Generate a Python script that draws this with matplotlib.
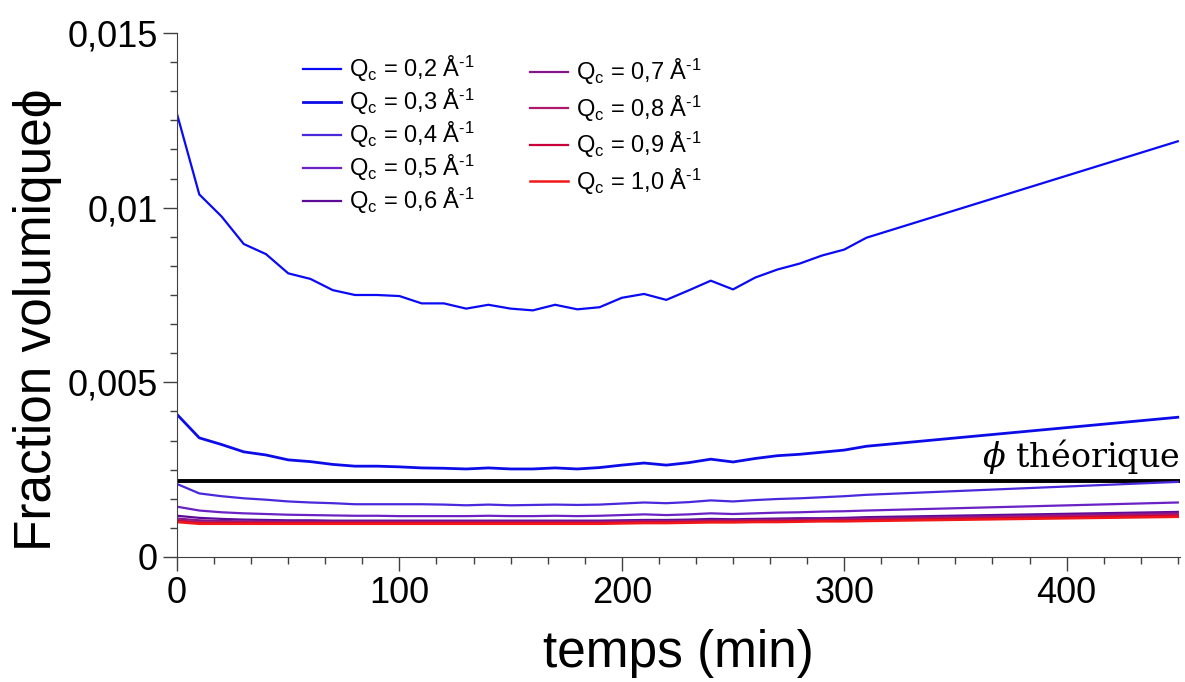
import matplotlib
matplotlib.use("Agg")
import matplotlib.pyplot as plt
from matplotlib.ticker import FixedLocator, AutoMinorLocator

plt.rcParams['font.family'] = ['Liberation Sans', 'DejaVu Sans']
plt.rcParams['mathtext.default'] = 'regular'
plt.rcParams['mathtext.fontset'] = 'custom'
plt.rcParams['mathtext.rm'] = 'Liberation Sans'
plt.rcParams['mathtext.it'] = 'DejaVu Serif:italic'

# temps (min)
temps = [0, 10, 20, 30, 40, 50, 60, 70, 80, 90, 100, 110, 120, 130, 140, 150,
         160, 170, 180, 190, 200, 210, 220, 230, 240, 250, 260, 270, 280, 290,
         300, 310, 450]

# fraction volumique (x 1e-3) pour chaque Qc
qc_labels = ["0,2", "0,3", "0,4", "0,5", "0,6", "0,7", "0,8", "0,9", "1,0"]
phi_02 = [12.68, 10.38, 9.75, 8.96, 8.67, 8.12, 7.96, 7.64, 7.50, 7.50, 7.47,
          7.26, 7.26, 7.11, 7.22, 7.11, 7.06, 7.22, 7.09, 7.15, 7.42, 7.53,
          7.36, 7.63, 7.91, 7.66, 8.00, 8.23, 8.40, 8.63, 8.80, 9.14, 11.90]
phi_03 = [4.08, 3.41, 3.22, 3.01, 2.92, 2.78, 2.73, 2.65, 2.60, 2.60, 2.58,
          2.55, 2.54, 2.52, 2.55, 2.52, 2.52, 2.55, 2.52, 2.56, 2.63, 2.69,
          2.63, 2.70, 2.80, 2.72, 2.82, 2.90, 2.94, 3.00, 3.06, 3.17, 4.00]
phi_04 = [2.09, 1.82, 1.74, 1.68, 1.64, 1.59, 1.56, 1.54, 1.51, 1.51, 1.51,
          1.51, 1.50, 1.48, 1.50, 1.48, 1.49, 1.50, 1.49, 1.50, 1.53, 1.56,
          1.54, 1.57, 1.62, 1.59, 1.63, 1.66, 1.68, 1.71, 1.74, 1.78, 2.15]
phi_05 = [1.44, 1.33, 1.28, 1.25, 1.23, 1.21, 1.20, 1.19, 1.18, 1.18, 1.17,
          1.17, 1.17, 1.17, 1.18, 1.17, 1.17, 1.18, 1.17, 1.18, 1.20, 1.22,
          1.20, 1.22, 1.25, 1.23, 1.25, 1.27, 1.28, 1.30, 1.31, 1.33, 1.56]
phi_06 = [1.18, 1.12, 1.09, 1.07, 1.06, 1.05, 1.05, 1.04, 1.04, 1.04, 1.04,
          1.04, 1.04, 1.04, 1.04, 1.04, 1.04, 1.04, 1.04, 1.04, 1.05, 1.06,
          1.06, 1.07, 1.09, 1.08, 1.09, 1.10, 1.11, 1.11, 1.12, 1.14, 1.29]
phi_07 = [1.10, 1.05, 1.03, 1.02, 1.02, 1.01, 1.01, 1.01, 1.01, 1.01, 1.01,
          1.01, 1.01, 1.01, 1.01, 1.01, 1.01, 1.01, 1.01, 1.01, 1.02, 1.03,
          1.03, 1.04, 1.05, 1.05, 1.06, 1.07, 1.07, 1.08, 1.09, 1.10, 1.25]
phi_08 = [1.05, 1.00, 0.99, 0.99, 0.99, 0.99, 0.99, 0.99, 0.99, 0.99, 0.99,
          0.99, 0.99, 0.99, 0.99, 0.99, 0.99, 0.99, 0.99, 0.99, 1.00, 1.01,
          1.01, 1.02, 1.03, 1.03, 1.04, 1.04, 1.05, 1.06, 1.06, 1.07, 1.21]
phi_09 = [1.02, 0.97, 0.97, 0.97, 0.97, 0.97, 0.97, 0.97, 0.97, 0.97, 0.97,
          0.97, 0.97, 0.97, 0.97, 0.97, 0.97, 0.97, 0.97, 0.97, 0.98, 0.99,
          0.99, 1.00, 1.01, 1.01, 1.02, 1.02, 1.03, 1.04, 1.04, 1.05, 1.18]
phi_10 = [1.00, 0.95, 0.95, 0.95, 0.95, 0.95, 0.95, 0.95, 0.95, 0.95, 0.95,
          0.95, 0.95, 0.95, 0.95, 0.95, 0.95, 0.95, 0.95, 0.95, 0.96, 0.97,
          0.97, 0.98, 0.99, 0.99, 1.00, 1.00, 1.01, 1.02, 1.02, 1.03, 1.15]
series = [phi_02, phi_03, phi_04, phi_05, phi_06, phi_07, phi_08, phi_09, phi_10]
couleurs = ["#0a0af5", "#0c0ce8", "#4a28dc", "#6a22c4", "#5c0a98",
            "#86168c", "#ad1a6c", "#c8003c", "#f01818"]
epaisseurs = [1.6, 2.0, 1.6, 1.6, 1.6, 1.6, 1.6, 1.6, 1.8]

phi_theorique = 2.17e-3

y_ticks = [0, 0.005, 0.01, 0.015]
y_ticklabels = ["0", "0,005", "0,01", "0,015"]
x_ticks = [0, 100, 200, 300, 400]

fig = plt.figure(figsize=(11.85, 6.82), dpi=100)
ax = fig.add_axes([0.1494, 0.1833, 0.8464, 0.7683])

lignes = []
for vals, lab, c, lw in zip(series, qc_labels, couleurs, epaisseurs):
    l, = ax.plot(temps, [v * 1e-3 for v in vals], color=c, lw=lw,
                 label="Q$_c$ = " + lab + " Å$^{\u2010 1}$")
    lignes.append(l)

ax.axhline(phi_theorique, color="black", lw=2.8, zorder=1)
ax.text(451, phi_theorique + 0.00015, "$\\mathit{\\phi}$ théorique", ha="right",
        va="bottom", fontsize=24, family="DejaVu Serif")

ax.set_xlim(0, 451)
ax.set_ylim(0, 0.015)
ax.xaxis.set_major_locator(FixedLocator(x_ticks))
ax.xaxis.set_minor_locator(AutoMinorLocator(6))
ax.yaxis.set_major_locator(FixedLocator(y_ticks))
ax.set_yticklabels(y_ticklabels)
ax.yaxis.set_minor_locator(AutoMinorLocator(6))
ax.tick_params(which="major", length=10, width=1, labelsize=26, color="#404040", pad=4)
ax.tick_params(which="minor", length=5, width=1, color="#404040")
for s in ["top", "right"]:
    ax.spines[s].set_visible(False)
for s in ["left", "bottom"]:
    ax.spines[s].set_color("#404040")

ax.set_xlabel("temps (min)", fontsize=37, labelpad=13)
ax.set_ylabel("Fraction volumique\u03d5", fontsize=37)
ax.yaxis.set_label_coords(-0.115, 0.452)

leg1 = fig.legend(handles=lignes[:5], loc="upper left", bbox_to_anchor=(0.2555, 0.921),
                  frameon=False, fontsize=17, handlelength=1.6, handletextpad=0.35,
                  labelspacing=0.12, borderpad=0, borderaxespad=0)
leg2 = fig.legend(handles=lignes[5:], loc="upper left", bbox_to_anchor=(0.4475, 0.916),
                  frameon=False, fontsize=17, handlelength=1.6, handletextpad=0.35,
                  labelspacing=0.26, borderpad=0, borderaxespad=0)

fig.savefig("out.png", dpi=100)
